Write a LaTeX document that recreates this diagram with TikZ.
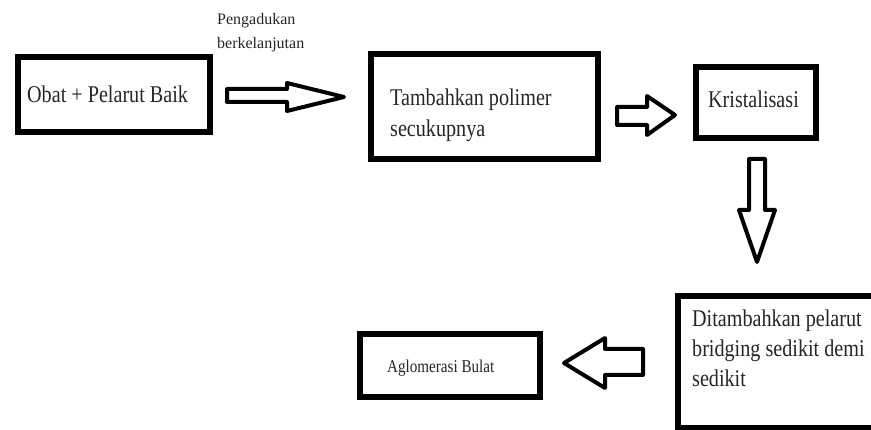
\documentclass[tikz,border=0pt]{standalone}
\usepackage{fontspec}
\setmainfont{Liberation Serif}
\begin{document}
\begin{tikzpicture}[x=1pt,y=1pt,
  stepbox/.style={draw=black, line width=6pt, inner sep=0pt, minimum width=#1},
  blockarrow/.style={draw=black, line width=4pt, line join=round, fill=white},
  txt/.style={anchor=base west, inner sep=0pt, text=black!85, xscale=0.84, transform shape},
  big/.style={font=\fontsize{24}{31}\selectfont},
]
\useasboundingbox (0,0) rectangle (871,-430);
\clip (0,0) rectangle (871,-430);
\fill[white] (0,0) rectangle (871,-430);

% boxes
\node[stepbox=192pt, minimum height=75pt]  (b1) at (114,-94.5) {};
\node[stepbox=227pt, minimum height=105pt] (b2) at (484.5,-106.5) {};
\node[stepbox=120pt, minimum height=71pt]  (b3) at (756,-102.5) {};
\node[stepbox=207pt, minimum height=132pt] (b4) at (781.5,-362) {};
\node[stepbox=180pt, minimum height=63pt]  (b5) at (450,-365.5) {};

% texts
\node[txt, big] (t1) at (27,-103) {Obat + Pelarut Baik};
\node[txt, font=\fontsize{16}{24}\selectfont, xscale=1.19] (lbl) at (217,-25)
  {\begin{tabular}[t]{@{}l@{}}Pengadukan\\berkelanjutan\end{tabular}};
\node[txt, big] (t2) at (390,-106)
  {\begin{tabular}[t]{@{}l@{}}Tambahkan polimer\\secukupnya\end{tabular}};
\node[txt, big] (t3) at (708,-108) {Kristalisasi};
\node[txt, font=\fontsize{24}{30}\selectfont] (t4) at (692,-327)
  {\begin{tabular}[t]{@{}l@{}}Ditambahkan pelarut\\bridging sedikit demi\\sedikit\end{tabular}};
\node[txt, font=\fontsize{18}{22}\selectfont] (t5) at (387,-373) {Aglomerasi Bulat};

% block arrows
\draw[blockarrow] (227,-89) -- (287,-89) -- (287,-83) -- (344,-97) -- (287,-111)
  -- (287,-102) -- (227,-102) -- cycle;
\draw[blockarrow] (617,-107) -- (647,-107) -- (647,-96) -- (675,-115) -- (647,-135)
  -- (647,-125) -- (617,-125) -- cycle;
\draw[blockarrow] (749,-159) -- (749,-210) -- (739,-210) -- (757,-262) -- (775,-210)
  -- (765,-210) -- (765,-159) -- cycle;
\draw[blockarrow] (643,-349) -- (605,-349) -- (605,-338) -- (564,-363) -- (605,-388)
  -- (605,-375) -- (643,-375) -- cycle;
\end{tikzpicture}
\end{document}
